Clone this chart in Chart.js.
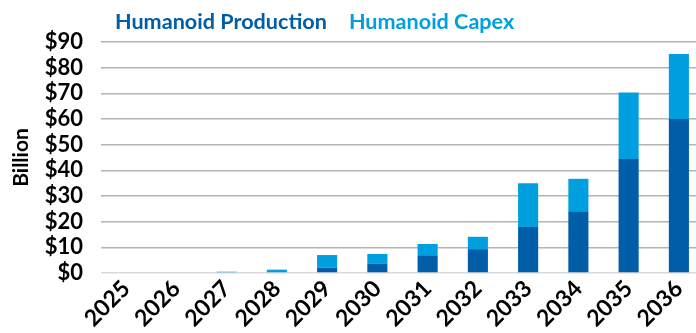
<!DOCTYPE html>
<html>
<head>
<meta charset="utf-8">
<script src="https://cdn.jsdelivr.net/npm/chart.js@4/dist/chart.umd.min.js"></script>
<style>
html,body{margin:0;padding:0;overflow:hidden;background:#fff;width:696px;height:333px;}
canvas{display:block;}
</style>
</head>
<body>
<canvas id="c" width="704" height="333" style="width:704px;height:333px"></canvas>
<script>
const years = ['2025','2026','2027','2028','2029','2030','2031','2032','2033','2034','2035','2036'];
const production = [0, 0, 0, 0, 2.1, 3.7, 6.9, 9.3, 17.9, 24.1, 44.4, 60];
const capex = [0, 0, 0.5, 1.3, 4.9, 3.7, 4.4, 4.8, 17.1, 12.6, 25.9, 25.3];
const yTicks = [0,10,20,30,40,50,60,70,80,90];

const DARK = '#005DA8';
const LIGHT = '#00A0E0';
const FONT = 'Lato, "Open Sans", sans-serif';

const legendText = {
  id: 'legendText',
  afterDraw(chart) {
    const ctx = chart.ctx;
    ctx.save();
    ctx.font = 'bold 21.6px ' + FONT;
    ctx.textBaseline = 'alphabetic';
    ctx.textAlign = 'left';
    let x = 115;
    chart.data.datasets.forEach(ds => {
      ctx.fillStyle = ds.backgroundColor;
      ctx.fillText(ds.label, x, 29);
      x += ctx.measureText(ds.label).width + 22;
    });
    ctx.restore();
  }
};

new Chart(document.getElementById('c'), {
  type: 'bar',
  data: {
    labels: years,
    datasets: [
      { label: 'Humanoid Production', data: production, backgroundColor: DARK },
      { label: 'Humanoid Capex', data: capex, backgroundColor: LIGHT }
    ]
  },
  options: {
    responsive: false,
    animation: false,
    devicePixelRatio: 1,
    layout: { padding: { top: 42, left: 9, right: 0, bottom: 0 } },
    plugins: { legend: { display: false }, tooltip: { enabled: false } },
    datasets: { bar: { categoryPercentage: 1, barPercentage: 0.4 } },
    scales: {
      x: {
        stacked: true,
        grid: { display: false, drawTicks: false },
        border: { display: false },
        ticks: {
          color: '#000',
          font: { family: FONT, size: 23, weight: 'bold' },
          maxRotation: 45, minRotation: 45, padding: 2, autoSkip: false
        },
        afterFit(scale) { scale.height = 60; }
      },
      y: {
        stacked: true,
        min: 0, max: 90,
        afterBuildTicks(scale) { scale.ticks = yTicks.map(v => ({ value: v })); },
        grid: {
          drawTicks: false,
          color: ctx => (ctx.tick && ctx.tick.value === 0) ? '#dadadc' : '#b4b4b8',
          lineWidth: 1.5
        },
        border: { display: false },
        ticks: {
          color: '#000',
          padding: 18,
          autoSkip: false,
          font: { family: FONT, size: 22, weight: 'bold' },
          callback: v => '$' + v
        },
        title: {
          display: true, text: 'Billion', color: '#000',
          font: { family: FONT, size: 21, weight: 'bold' },
          padding: { top: 0, bottom: 0 }
        },
        afterFit(scale) { scale.width = 92; }
      }
    }
  },
  plugins: [legendText]
});
</script>
</body>
</html>
